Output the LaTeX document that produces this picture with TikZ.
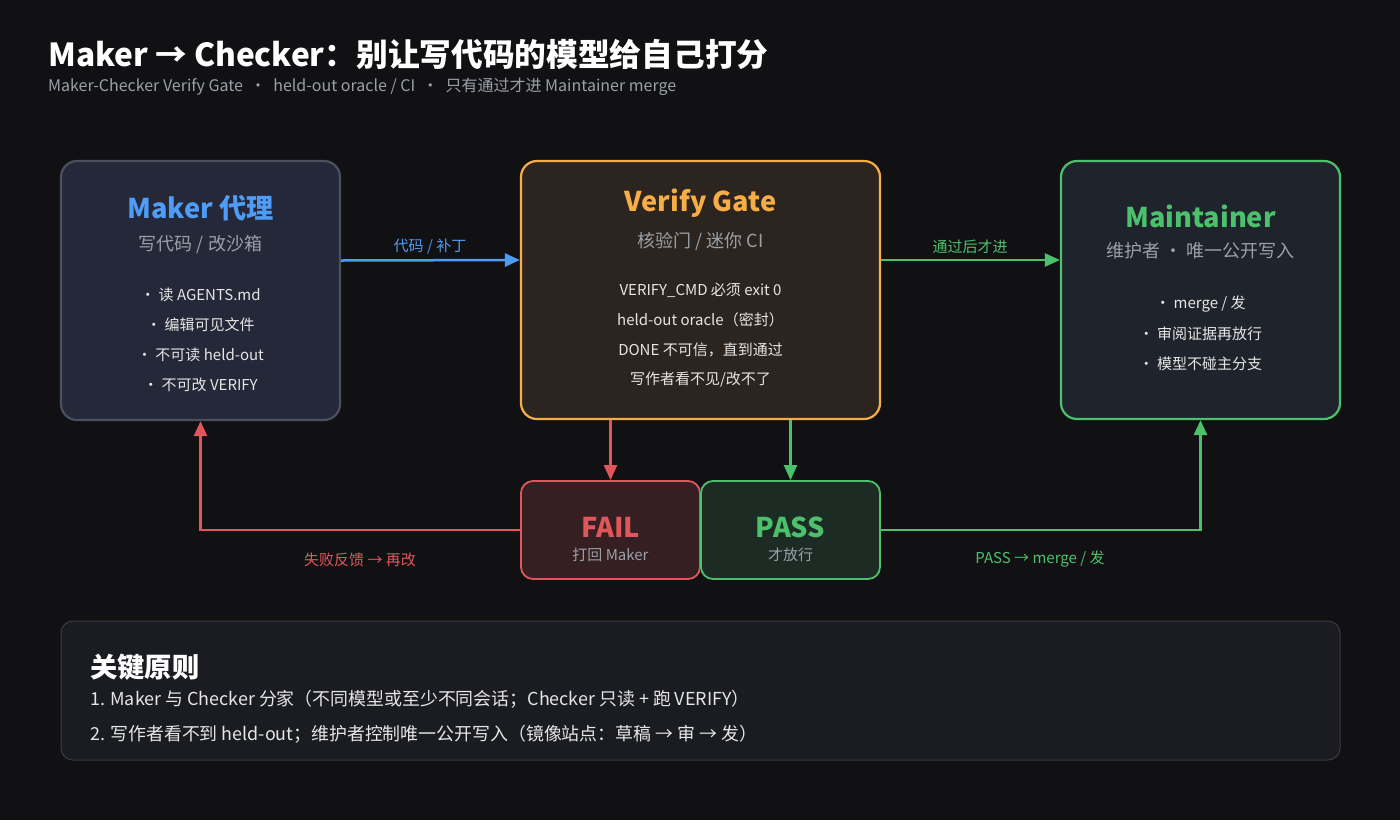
\documentclass[tikz,border=0pt]{standalone}
\usepackage{fontspec}
\setmainfont{Noto Sans CJK SC}
\usetikzlibrary{arrows.meta}
\definecolor{bg}{HTML}{111114}
\definecolor{makerfill}{HTML}{242838}
\definecolor{makerborder}{HTML}{4B4F5E}
\definecolor{cblue}{HTML}{4F9CF6}
\definecolor{gatefill}{HTML}{2C241E}
\definecolor{corange}{HTML}{F6AD45}
\definecolor{maintfill}{HTML}{1F242C}
\definecolor{cgreen}{HTML}{4CC16C}
\definecolor{failfill}{HTML}{361F23}
\definecolor{cred}{HTML}{E0575B}
\definecolor{passfill}{HTML}{1C2C24}
\definecolor{cgrey}{HTML}{9AA0A8}
\definecolor{cwhite}{HTML}{E6E6E6}
\definecolor{prinfill}{HTML}{1B1C21}
\definecolor{prinborder}{HTML}{3A3B42}
\tikzset{
  panel/.style={rounded corners=16pt, line width=2.2pt, inner sep=0pt},
  ttl/.style={font=\fontsize{27.2}{32}\selectfont\bfseries, anchor=center, inner sep=0pt},
  sub/.style={font=\fontsize{18}{22}\selectfont, text=cgrey, anchor=center, inner sep=0pt},
  item/.style={font=\fontsize{15}{18}\selectfont, text=cwhite, anchor=center, inner sep=0pt},
  lbl/.style={font=\fontsize{15}{18}\selectfont, anchor=center, inner sep=0pt},
  conn/.style={line width=2.5pt, -{Triangle[length=15pt,width=13pt]}},
}
\begin{document}
\begin{tikzpicture}[x=1pt,y=-1pt]
\fill[bg] (0,0) rectangle (1400,820);
\useasboundingbox (0,0) rectangle (1400,820);
% title
\node[anchor=base west, inner sep=0pt, text=white, font=\fontsize{31.7}{36}\selectfont\bfseries] (title) at (48,66) {Maker → Checker：别让写代码的模型给自己打分};
\node[anchor=base west, inner sep=0pt, text=cgrey, font=\fontsize{16}{19}\selectfont] (subtitle) at (48,91) {Maker-Checker Verify Gate \ ・ \ held-out oracle / CI \ ・ \ 只有通过才进 Maintainer merge};
% panels
\node[panel, draw=makerborder, fill=makerfill, minimum width=279pt, minimum height=259pt] (maker) at (200.5,290.5) {};
\node[panel, draw=corange, fill=gatefill, minimum width=359pt, minimum height=258pt] (gate) at (700.5,290) {};
\node[panel, draw=cgreen, fill=maintfill, minimum width=279pt, minimum height=258pt] (maint) at (1200.5,290) {};
\node[panel, rounded corners=12pt, line width=1.8pt, draw=cred, fill=failfill, minimum width=179pt, minimum height=98pt] (fail) at (610.5,530) {};
\node[panel, rounded corners=12pt, line width=1.8pt, draw=cgreen, fill=passfill, minimum width=179pt, minimum height=98pt] (pass) at (790.5,530) {};
\node[panel, rounded corners=12pt, line width=1pt, draw=prinborder, fill=prinfill, minimum width=1279pt, minimum height=139pt] (prin) at (700.5,690.5) {};
% maker text
\node[ttl, text=cblue] (makert) at (200.5,208) {Maker 代理};
\node[sub] (makers) at (200.5,245) {写代码 / 改沙箱};
\node[item] (m1) at (200.5,295) {・ 读 AGENTS.md};
\node[item] (m2) at (200.5,325) {・ 编辑可见文件};
\node[item] (m3) at (200.5,355) {・ 不可读 held-out};
\node[item] (m4) at (200.5,385) {・ 不可改 VERIFY};
% gate text
\node[ttl, text=corange] (gatet) at (700.5,203) {Verify Gate};
\node[sub] (gates) at (700.5,241) {核验门 / 迷你 CI};
\node[item] (g1) at (700.5,290) {VERIFY\_CMD 必须 exit 0};
\node[item] (g2) at (700.5,320) {held-out oracle（密封）};
\node[item] (g3) at (700.5,350) {DONE 不可信，直到通过};
\node[item] (g4) at (700.5,380) {写作者看不见/改不了};
% maintainer text
\node[ttl, text=cgreen] (maintt) at (1200.5,216) {Maintainer};
\node[sub] (maints) at (1200.5,251) {维护者 ・ 唯一公开写入};
\node[item] (t1) at (1200.5,304) {・ merge / 发};
\node[item] (t2) at (1200.5,334) {・ 审阅证据再放行};
\node[item] (t3) at (1200.5,364) {・ 模型不碰主分支};
% fail / pass text
\node[ttl, text=cred] (failt) at (610.5,527) {FAIL};
\node[lbl, text=cgrey] (fails) at (610.5,555) {打回 Maker};
\node[ttl, text=cgreen] (passt) at (790.5,527) {PASS};
\node[lbl, text=cgrey] (passs) at (790.5,555) {才放行};
% connectors
\draw[conn, draw=cblue] ([yshift=30pt]maker.east) -- ([yshift=30pt]gate.west);
\node[lbl, text=cblue] (l1) at (430,247) {代码 / 补丁};
\draw[conn, draw=cgreen] ([yshift=30pt]gate.east) -- ([yshift=30pt]maint.west);
\node[lbl, text=cgreen] (l2) at (970,247) {通过后才进};
\draw[conn, draw=cred] (fail.north |- gate.south) -- (fail.north);
\draw[conn, draw=cgreen] (pass.north |- gate.south) -- (pass.north);
\draw[conn, draw=cred] (fail.west) -| (maker.south);
\node[lbl, text=cred] (l3) at (360,560) {失败反馈 → 再改};
\draw[conn, draw=cgreen] (pass.east) -| (maint.south);
\node[lbl, text=cgreen] (l4) at (1040,559) {PASS → merge / 发};
% principles
\node[anchor=base west, inner sep=0pt, text=white, font=\fontsize{27.3}{30}\selectfont\bfseries] (prt) at (90,677) {关键原则};
\node[anchor=base west, inner sep=0pt, text=cwhite, font=\fontsize{17.9}{20}\selectfont] (pr1) at (90,705) {1. Maker 与 Checker 分家（不同模型或至少不同会话；Checker 只读 + 跑 VERIFY）};
\node[anchor=base west, inner sep=0pt, text=cwhite, font=\fontsize{17.9}{20}\selectfont] (pr2) at (90,740) {2. 写作者看不到 held-out；维护者控制唯一公开写入（镜像站点：草稿 → 审 → 发）};
\end{tikzpicture}
\end{document}
